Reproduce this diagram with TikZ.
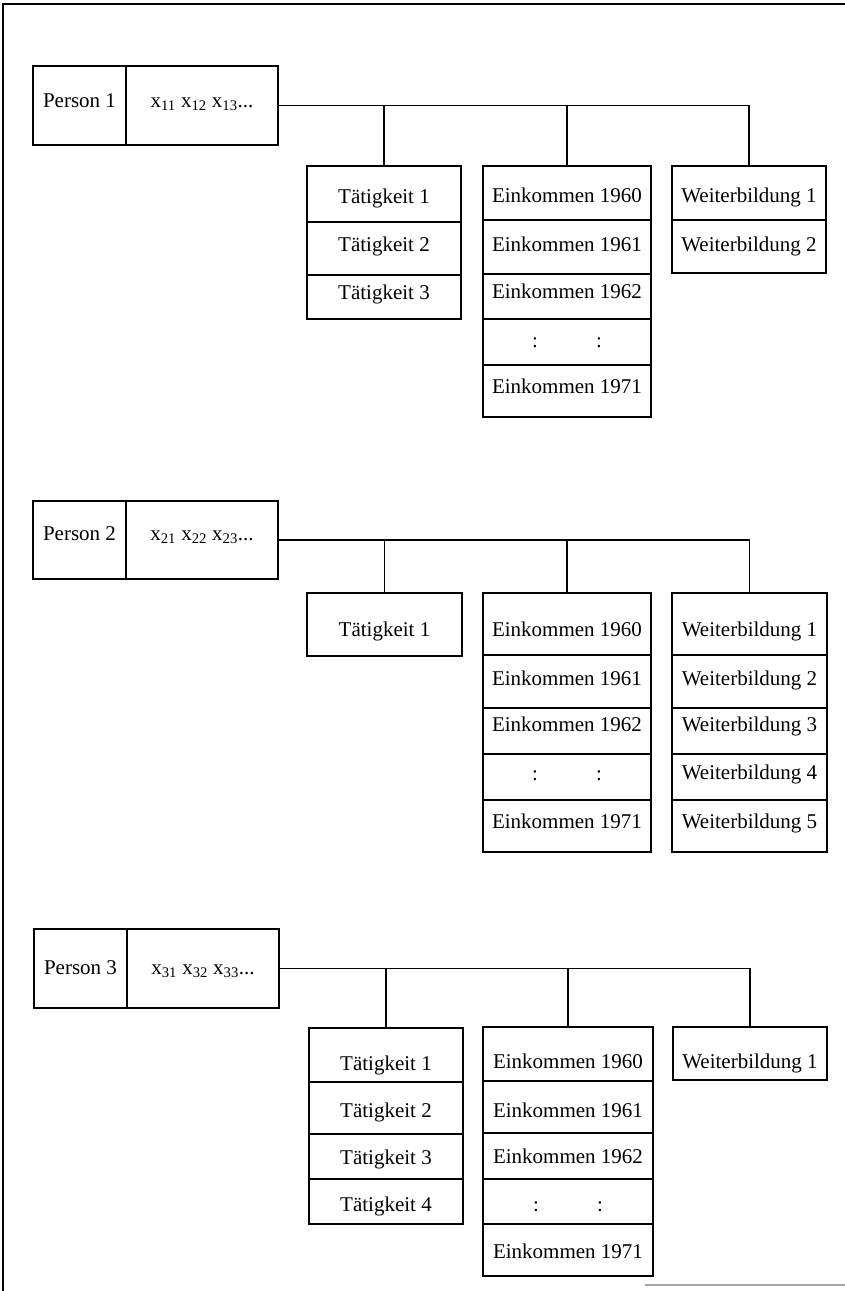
\documentclass[tikz,border=0pt]{standalone}
\usepackage{fontspec}
\setmainfont{Liberation Serif}
\tikzset{
  cell/.style={draw, line width=1.4pt, inner sep=0pt, outer sep=0pt},
  txt/.style={inner sep=0pt, font=\fontsize{21}{25}\selectfont},
  conn/.style={line width=1.4pt},
  frameline/.style={line width=1.3pt},
}
% #1 name, #2 x left, #3 x right, #4 y top, #5 y bottom, #6 baseline, #7 text
\newcommand\cbox[7]{%
  \node[cell, minimum width={#3-#2}, minimum height={#5-#4}] (#1) at ({(#2+#3)/2},{(#4+#5)/2}) {};
  \node[txt, anchor=base] (#1-t) at ({(#2+#3)/2},#6) {#7};
}
\newcommand\colons{\makebox[70pt]{:\hfill:}}
\begin{document}
\begin{tikzpicture}[x=1pt,y=-1pt]
\useasboundingbox (0,0) rectangle (845,1291);
% frame
\draw[frameline] (845,4) -- (3,4) -- (3,1291);
\draw[line width=1.5pt, black!35] (645,1285) -- (845,1285);

% ---------------- Person 1 ----------------
\cbox{p1}{33}{126}{66}{145}{107}{Person 1}
\cbox{p1x}{126}{278}{66}{145}{107}{x\textsubscript{11} x\textsubscript{12} x\textsubscript{13}...}
\cbox{t11}{307}{461}{166}{222}{203}{Tätigkeit 1}
\cbox{t12}{307}{461}{222}{275}{251}{Tätigkeit 2}
\cbox{t13}{307}{461}{275}{319}{299}{Tätigkeit 3}
\cbox{e11}{483}{651}{166}{220}{202}{Einkommen 1960}
\cbox{e12}{483}{651}{220}{274}{251}{Einkommen 1961}
\cbox{e13}{483}{651}{274}{319}{298}{Einkommen 1962}
\cbox{e14}{483}{651}{319}{365}{347}{\colons}
\cbox{e15}{483}{651}{365}{417}{393}{Einkommen 1971}
\cbox{w11}{672}{826}{166}{220}{202}{Weiterbildung 1}
\cbox{w12}{672}{826}{220}{273}{251}{Weiterbildung 2}
\draw[conn] (p1x.east) -| (w11.north);
\draw[conn] (t11.north) -- (t11.north |- p1x.east);
\draw[conn] (e11.north) -- (e11.north |- p1x.east);

% ---------------- Person 2 ----------------
\cbox{p2}{33}{126}{501}{579}{540}{Person 2}
\cbox{p2x}{126}{278}{501}{579}{540}{x\textsubscript{21} x\textsubscript{22} x\textsubscript{23}...}
\cbox{t21}{307}{462}{593}{656}{636.5}{Tätigkeit 1}
\cbox{e21}{483}{651}{593}{655}{636.5}{Einkommen 1960}
\cbox{e22}{483}{651}{655}{708}{685.7}{Einkommen 1961}
\cbox{e23}{483}{651}{708}{754}{731.7}{Einkommen 1962}
\cbox{e24}{483}{651}{754}{800}{780}{\colons}
\cbox{e25}{483}{651}{800}{852}{828}{Einkommen 1971}
\cbox{w21}{672}{827}{593}{655}{636.5}{Weiterbildung 1}
\cbox{w22}{672}{827}{655}{708}{685.7}{Weiterbildung 2}
\cbox{w23}{672}{827}{708}{754}{731.7}{Weiterbildung 3}
\cbox{w24}{672}{827}{754}{800}{779}{Weiterbildung 4}
\cbox{w25}{672}{827}{800}{852}{828}{Weiterbildung 5}
\draw[conn] (p2x.east) -| (w21.north);
\draw[conn] (t21.north) -- (t21.north |- p2x.east);
\draw[conn] (e21.north) -- (e21.north |- p2x.east);

% ---------------- Person 3 ----------------
\cbox{p3}{34}{127}{929}{1008}{974}{Person 3}
\cbox{p3x}{127}{279}{929}{1008}{974}{x\textsubscript{31} x\textsubscript{32} x\textsubscript{33}...}
\cbox{t31}{309}{463}{1028}{1082}{1070}{Tätigkeit 1}
\cbox{t32}{309}{463}{1082}{1134}{1117}{Tätigkeit 2}
\cbox{t33}{309}{463}{1134}{1179}{1164}{Tätigkeit 3}
\cbox{t34}{309}{463}{1179}{1224}{1211.7}{Tätigkeit 4}
\cbox{e31}{483}{653}{1027}{1081}{1068}{Einkommen 1960}
\cbox{e32}{483}{653}{1081}{1133}{1117}{Einkommen 1961}
\cbox{e33}{483}{653}{1133}{1179}{1163}{Einkommen 1962}
\cbox{e34}{483}{653}{1179}{1224}{1211.5}{\colons}
\cbox{e35}{483}{653}{1224}{1276}{1258}{Einkommen 1971}
\cbox{w31}{673}{827}{1027}{1080}{1068}{Weiterbildung 1}
\draw[conn] (p3x.east) -| (w31.north);
\draw[conn] (t31.north) -- (t31.north |- p3x.east);
\draw[conn] (e31.north) -- (e31.north |- p3x.east);
\end{tikzpicture}
\end{document}
